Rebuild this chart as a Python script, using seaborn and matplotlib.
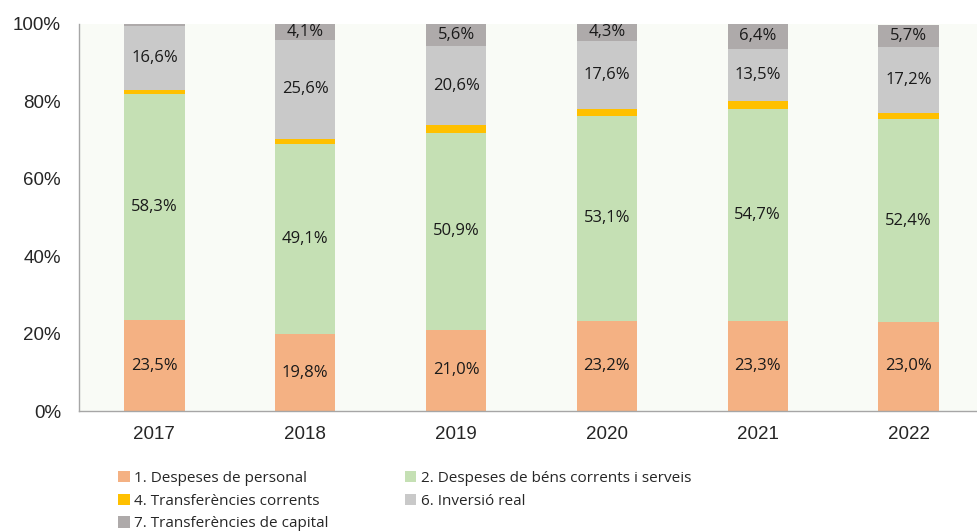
import seaborn as sns
import matplotlib.pyplot as plt
import numpy as np
import pandas as pd
from matplotlib.patches import Patch

# data (percent of total per year)
years = ['2017', '2018', '2019', '2020', '2021', '2022']
personal = [23.5, 19.8, 21.0, 23.2, 23.3, 23.0]
bens = [58.3, 49.1, 50.9, 53.1, 54.7, 52.4]
transf_corrents = [1.1, 1.4, 1.9, 1.8, 2.1, 1.5]
inversio = [16.6, 25.6, 20.6, 17.6, 13.5, 17.2]
transf_capital = [0.5, 4.1, 5.6, 4.3, 6.4, 5.7]

series_names = ['1. Despeses de personal',
                '2. Despeses de béns corrents i serveis',
                '4. Transferències corrents',
                '6. Inversió real',
                '7. Transferències de capital']
series_values = [personal, bens, transf_corrents, inversio, transf_capital]
colors = ['#F4B183', '#C5E0B4', '#FFC000', '#C9C9C9', '#AEAAAA']
show_label = [True, True, False, True, True]

df = pd.DataFrame({'year': years})
for name, vals in zip(series_names, series_values):
    df[name] = vals

sns.set_style('white')
plt.rcParams['font.family'] = ['Liberation Sans', 'DejaVu Sans']

fig = plt.figure(figsize=(9.77, 5.31), dpi=100)
ax = fig.add_axes([79 / 977, 120 / 531, 905 / 977, 387 / 531])
ax.set_facecolor('#F9FBF6')

# stacked bars: draw cumulative totals from top layer down
cum = df[series_names].cumsum(axis=1)
for i in range(len(series_names) - 1, -1, -1):
    sns.barplot(x=df['year'], y=cum[series_names[i]], color=colors[i],
                width=0.4, saturation=1, ax=ax, linewidth=0)

# value labels centered in each segment
for i, name in enumerate(series_names):
    if not show_label[i]:
        continue
    for j, yr in enumerate(years):
        v = df[name].iloc[j]
        mid = cum[name].iloc[j] - v / 2
        if v < 1:
            continue
        ax.text(j, mid, f'{v:.1f}%'.replace('.', ','), ha='center', va='center',
                fontsize=12, color='#1a1a1a', family=['Open Sans', 'DejaVu Sans'])

ax.set_ylim(0, 100)
ax.set_xlim(-0.5, len(years) - 0.5)
ax.set_yticks(np.arange(0, 101, 20))
ax.set_yticklabels([f'{t}%' for t in range(0, 101, 20)], fontsize=13.5)
ax.set_xlabel('')
ax.set_ylabel('')
ax.set_xticks(np.arange(len(years)))
ax.set_xticklabels(years)
ax.tick_params(axis='x', labelsize=13.5, length=0, pad=11)
ax.tick_params(axis='y', length=0, pad=13)
ax.set_xticks(np.arange(0.5, len(years) - 0.5), minor=True)
ax.tick_params(axis='x', which='minor', length=4, color='#A6A6A6', width=1)

for side in ['top', 'right']:
    ax.spines[side].set_visible(False)
for side in ['left', 'bottom']:
    ax.spines[side].set_color('#A6A6A6')
    ax.spines[side].set_linewidth(1)

# legend, row-major order over two columns
order = [0, 2, 4, 1, 3]
handles = [Patch(facecolor=colors[k], edgecolor='none', label=series_names[k]) for k in order]
leg = fig.legend(handles=handles, ncol=2, loc='upper left',
                 bbox_to_anchor=(112 / 977, 1 - 465 / 531), frameon=False,
                 prop={'family': ['Open Sans', 'DejaVu Sans'], 'size': 11},
                 handlelength=0.75, handleheight=0.75, handletextpad=0.3,
                 columnspacing=5.0, labelspacing=0.5, borderaxespad=0)

fig.savefig('out.png', dpi=100)
